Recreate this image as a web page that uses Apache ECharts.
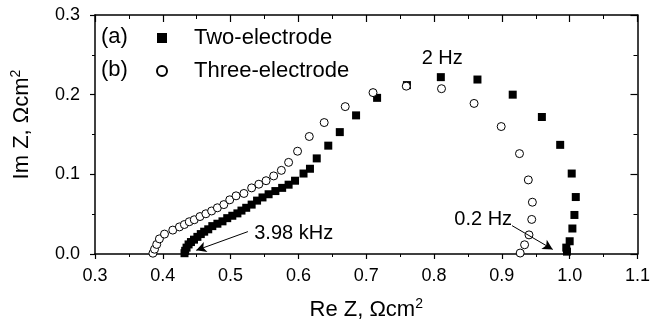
<!DOCTYPE html>
<html>
<head>
<meta charset="utf-8">
<script src="https://cdn.jsdelivr.net/npm/echarts@6/dist/echarts.min.js"></script>
<style>html,body{margin:0;padding:0;background:#fff;}#c{width:653px;height:326px;}</style>
</head>
<body>
<div id="c"></div>
<script>
// Two-electrode (filled squares): Re Z, Im Z (Ohm cm^2)
var twoX = [0.432,0.433,0.435,0.438,0.4415,0.446,0.451,0.456,0.461,0.467,0.473,0.4805,0.488,0.495,0.5025,0.510,0.516,0.523,0.531,0.539,0.547,0.556,0.566,0.576,0.5855,0.595,0.6075,0.617,0.627,0.644,0.661,0.685,0.716,0.760,0.810,0.864,0.916,0.959,0.986,1.003,1.009,1.007,1.004,1.000,0.995,0.996];
var twoY = [0.001,0.004,0.008,0.012,0.015,0.018,0.0215,0.025,0.028,0.031,0.035,0.038,0.041,0.045,0.048,0.051,0.0545,0.058,0.062,0.067,0.071,0.075,0.079,0.083,0.087,0.092,0.101,0.107,0.120,0.136,0.153,0.174,0.196,0.212,0.222,0.219,0.200,0.172,0.137,0.101,0.0715,0.049,0.032,0.016,0.008,0.003];
// Three-electrode (open circles)
var threeX = [0.3854,0.3878,0.391,0.395,0.4025,0.4147,0.4245,0.4318,0.439,0.4464,0.4548,0.4635,0.472,0.4805,0.490,0.4987,0.508,0.5196,0.531,0.5416,0.5523,0.5635,0.5748,0.5855,0.5987,0.616,0.638,0.669,0.710,0.759,0.811,0.859,0.899,0.926,0.939,0.945,0.944,0.940,0.9335,0.927];
var threeY = [0.001,0.006,0.012,0.019,0.025,0.030,0.034,0.037,0.0405,0.043,0.047,0.0505,0.054,0.058,0.062,0.068,0.073,0.076,0.083,0.0876,0.092,0.098,0.105,0.115,0.129,0.1475,0.165,0.185,0.2026,0.2107,0.2075,0.189,0.160,0.126,0.093,0.065,0.0434,0.024,0.0116,0.0012];
// Annotations (data coordinates)
var annotLabels = ['2 Hz','3.98 kHz','0.2 Hz'];
var annotX = [0.812,0.593,0.8725];
var annotY = [0.246,0.0257,0.043];
var arrowFromX = [0.5255,0.915];
var arrowFromY = [0.0281,0.0356];
var arrowToX = [0.4493,0.975];
var arrowToY = [0.0046,0.0058];
var seriesNames = ['Two-electrode','Three-electrode'];
var legendTags = ['(a)','(b)'];
var xTicks = {min:0.3, max:1.1, step:0.1};
var yTicks = {min:0.0, max:0.3, step:0.1};

function pairs(xs, ys){ return xs.map(function(x,i){ return [x, ys[i]]; }); }

var FONT = '"Liberation Sans", Arial, sans-serif';
var chart = echarts.init(document.getElementById('c'));
var axisCommon = {
  type:'value', splitLine:{show:false},
  axisLine:{show:true, onZero:false, lineStyle:{color:'#000', width:1.5}},
  minorTick:{show:true, splitNumber:2, length:3, lineStyle:{color:'#000', width:1}},
  axisTick:{show:true, length:5, lineStyle:{color:'#000', width:1.2}}
};
var option = {
  animation:false,
  backgroundColor:'#fff',
  grid:{left:95, right:12, top:15, bottom:69},
  xAxis:[
    Object.assign({}, axisCommon, {
      position:'bottom', min:xTicks.min, max:xTicks.max, interval:xTicks.step,
      axisLabel:{color:'#000', fontSize:18, fontFamily:FONT, margin:13, formatter:function(v){return v.toFixed(1);}},
      name:'Re Z, \u03A9cm{sup|2}', nameLocation:'middle', nameGap:43,
      nameTextStyle:{color:'#000', fontSize:22, fontFamily:FONT,
        rich:{sup:{fontSize:14, fontFamily:FONT, color:'#000', padding:[0,0,12,0]}}}
    }),
    Object.assign({}, axisCommon, {
      position:'top', min:xTicks.min, max:xTicks.max, interval:xTicks.step,
      axisTick:{show:true, inside:true, length:7, lineStyle:{color:'#000', width:1.2}},
      minorTick:{show:true, splitNumber:2, length:4, lineStyle:{color:'#000', width:1}},
      axisLabel:{show:false}
    })
  ],
  yAxis:[
    Object.assign({}, axisCommon, {
      position:'left', min:yTicks.min, max:yTicks.max, interval:yTicks.step,
      axisLabel:{color:'#000', fontSize:18, fontFamily:FONT, margin:15, formatter:function(v){return v.toFixed(1);}},
      name:'Im Z, \u03A9cm{sup|2}', nameLocation:'middle', nameGap:60,
      nameTextStyle:{color:'#000', fontSize:22, fontFamily:FONT, padding:[0,0,0,20],
        rich:{sup:{fontSize:14, fontFamily:FONT, color:'#000', padding:[0,0,12,0]}}}
    }),
    Object.assign({}, axisCommon, {
      position:'right', min:yTicks.min, max:yTicks.max, interval:yTicks.step,
      axisTick:{show:true, inside:true, length:7, lineStyle:{color:'#000', width:1.2}},
      minorTick:{show:true, splitNumber:2, length:4, lineStyle:{color:'#000', width:1}},
      axisLabel:{show:false}
    })
  ],
  legend:{
    data:seriesNames, orient:'vertical', left:156, top:26, padding:0,
    itemWidth:10, itemHeight:10, itemGap:9,
    textStyle:{color:'#000', fontSize:22, fontFamily:FONT, lineHeight:24, padding:[0,0,0,22]}
  },
  graphic:[
    {type:'text', left:101, top:26, style:{text:legendTags[0], fontSize:22, fontFamily:FONT, fill:'#000'}},
    {type:'text', left:101, top:59, style:{text:legendTags[1], fontSize:22, fontFamily:FONT, fill:'#000'}}
  ],
  series:[
    {name:seriesNames[0], type:'scatter', symbol:'rect', symbolSize:8,
     itemStyle:{color:'#000', opacity:1}, data:pairs(twoX, twoY), z:2},
    {name:seriesNames[1], type:'scatter', symbol:'circle', symbolSize:8,
     itemStyle:{color:'#fff', borderColor:'#000', borderWidth:1, opacity:1}, data:pairs(threeX, threeY), z:3},
    {name:'annot', type:'scatter', symbolSize:0, silent:true, z:4,
     itemStyle:{color:'#000', opacity:1},
     data:annotX.map(function(x,i){ return {value:[x, annotY[i]], name:annotLabels[i]}; }),
     label:{show:true, position:'inside', formatter:'{b}', color:'#000', opacity:1, fontSize:20, fontFamily:FONT},
     markLine:{silent:true, symbol:['none','arrow'], symbolSize:[8,10], animation:false,
       itemStyle:{color:'#000', opacity:1},
       lineStyle:{color:'#000', width:1, type:'solid', opacity:1}, label:{show:false},
       data:arrowFromX.map(function(x,i){ return [{coord:[x, arrowFromY[i]]},{coord:[arrowToX[i], arrowToY[i]]}]; })}
    }
  ]
};
chart.setOption(option);
</script>
</body>
</html>
